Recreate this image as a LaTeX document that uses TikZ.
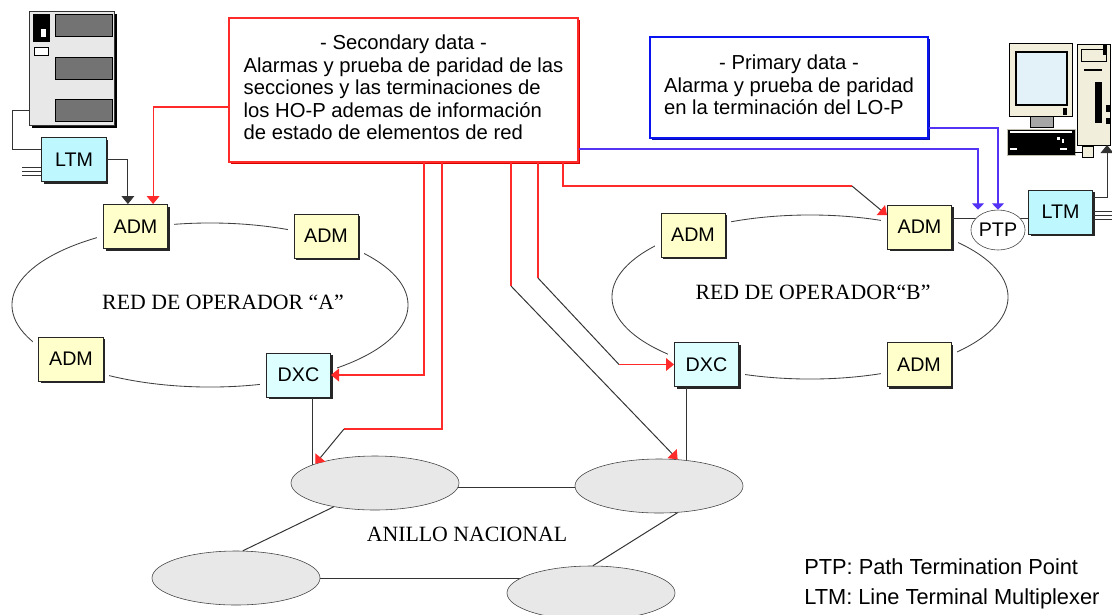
\documentclass[tikz,border=0pt]{standalone}
\usepackage{fontspec}
\setmainfont{Liberation Sans}
\newfontfamily\anillofont{Liberation Serif}
\usepackage{xcolor}
\definecolor{amarilloADM}{HTML}{FFFFCC}
\definecolor{cianDXC}{HTML}{DDFFFF}
\definecolor{cianLTM}{HTML}{BFF7FF}
\definecolor{grisAnillo}{HTML}{E8E8E8}
\definecolor{rojoDato}{HTML}{FF2A2A}
\definecolor{azulDato}{HTML}{5533F5}
\definecolor{azulCaja}{HTML}{0A14F0}
\definecolor{cremaPC}{HTML}{F2EEDC}
\definecolor{pantallaPC}{HTML}{E2F2F8}
\usepackage{tikz}
\usetikzlibrary{arrows.meta,shapes.geometric}

\begin{document}
\begin{tikzpicture}[x=0.025cm,y=-0.025cm,font=\fontsize{14}{16}\selectfont,
  halo/.style={preaction={draw=white,line width=0.3cm}},
  sombra/.style={preaction={fill=#1,transform canvas={shift={(0.6mm,-0.6mm)}}}},
  caja/.style={sombra=black!85,draw=black!85,line width=0.7pt,minimum width=1.6cm,minimum height=1.1cm,inner sep=0pt},
  adm/.style={halo,caja,fill=amarilloADM},
  dxc/.style={halo,caja,fill=cianDXC},
  ltm/.style={caja,fill=cianLTM},
  nodored/.style={ellipse,draw=black!75,fill=grisAnillo,minimum width=4.2cm,minimum height=1.35cm,inner sep=0pt},
  ptpnodo/.style={ellipse,draw=black!75,fill=white,minimum width=1.25cm,minimum height=1cm,inner sep=0pt},
  datosec/.style={sombra=red!85!black,draw=rojoDato,line width=1pt,fill=white,minimum width=8.72cm,minimum height=3.6cm,
    font=\fontsize{14.4}{16}\selectfont},
  datopri/.style={sombra=azulCaja!70!black,draw=azulCaja,line width=1pt,fill=white,minimum width=6.95cm,minimum height=2.52cm,
    font=\fontsize{14.4}{16}\selectfont},
  anillo/.style={draw=black!75,line width=0.6pt},
  enlace/.style={draw=black!80,line width=0.7pt},
  lineared/.style={draw=rojoDato,line width=0.8pt},
  lineaazul/.style={draw=azulDato,line width=0.8pt},
  flecha/.style={-{Triangle[length=2mm,width=3.2mm]}},
  flecharoja/.style={-{Triangle[length=2mm,width=3.2mm,color=rojoDato]}},
  flechaazul/.style={-{Triangle[length=1.6mm,width=3mm]}},
  etiqueta/.style={font=\anillofont\fontsize{15.5}{18}\selectfont},
  leyenda/.style={font=\fontsize{15.5}{18}\selectfont,anchor=base west,inner sep=0pt}]

\useasboundingbox (0,0) rectangle (1112,614);

% Anillos de operador
\draw[anillo] (210,305) ellipse [x radius=4.95cm, y radius=2.05cm];
\draw[anillo] (810,297) ellipse [x radius=4.95cm, y radius=2.05cm];

\node[etiqueta] (redA) at (223,302) {RED DE OPERADOR “A”};
\node[etiqueta] (redB) at (813,292) {RED DE OPERADOR“B”};

% Operador A
\node[adm] (admA1) at (135.5,226.5) {ADM};
\node[adm] (admA2) at (326,236)     {ADM};
\node[adm] (admA3) at (71,359)      {ADM};
\node[dxc] (dxcA)  at (298.5,375)   {DXC};
\node[ltm] (ltmL)  at (74,159.5)    {LTM};

% Operador B
\node[adm] (admBl) at (693,235)     {ADM};
\node[adm] (admBt) at (919.5,227)   {ADM};
\node[dxc] (dxcB)  at (706.5,364.5) {DXC};
\node[adm] (admBr) at (919,364.5)   {ADM};
\node[ltm] (ltmR)  at (1060.5,212)  {LTM};

\draw[enlace] (admBt.east |- 0,218) -- (ltmR.west |- 0,218);
\node[ptpnodo] (ptp) at (998,230) {PTP};

% Anillo nacional
\draw[enlace] (dxcA.south -| 312,0) -- (312,470);
\draw[enlace] (dxcB.south -| 686,0) -- (686,470);
\draw[enlace] (375,487) -- (659,487);
\draw[enlace] (236,578) -- (591,578);

\node[nodored] (e1) at (375,483) {};
\node[nodored] (e2) at (659,486) {};
\node[nodored] (e3) at (236,578) {};
\node[nodored] (e4) at (591,593) {};
\draw[enlace] (e1.-150) -- (e3.76);
\draw[enlace] (e2.-55) -- (e4.86);

\node[etiqueta] (nacional) at (467,534) {ANILLO NACIONAL};

% Servidor de gestion
\fill[black] (32,14) rectangle (117,128);
\filldraw[fill=grisAnillo,draw=black!80] (29,11) rectangle (114,125);
\fill[black] (33,14) rectangle (50,42);
\fill[white] (41,29) rectangle (46,37);
\filldraw[fill=white,draw=black] (34,47) rectangle (48,55);
\foreach \y in {14,57,99}
  \filldraw[fill=black!55,draw=black] (55,\y) rectangle (112,\y+22);

\draw[enlace] (29,110) -| (12,149) -- (ltmL.west |- 0,149);
\foreach \y in {167,171,175}
  \draw[enlace] (22,\y) -- (ltmL.west |- 0,\y);
\draw[enlace,flecha] (ltmL.east) -| ([xshift=-0.19cm]admA1.north);

% Estacion de gestion
\filldraw[fill=cremaPC,draw=black] (1009,43) rectangle (1072,116);
\filldraw[fill=pantallaPC,draw=black,line width=1.2pt] (1016,52) rectangle (1067,105);
\filldraw[fill=black!35,draw=black] (1030,116) rectangle (1053,127);
\fill[black] (1063,108) rectangle (1067,115);
\filldraw[fill=black,draw=cremaPC!80!black] (1007,129) rectangle (1075,155);
\fill[white] (1010,131) rectangle (1072,132.5);
\fill[white] (1010,148) rectangle (1017,150);
\fill[white] (1060,148) rectangle (1067,150);
\fill[white] (1057,137) rectangle (1060,140);
\fill[white] (1062,139) rectangle (1064,143);
\filldraw[fill=cremaPC,draw=black] (1077,44) rectangle (1110,145);
\filldraw[fill=cremaPC,draw=black] (1081,49) rectangle (1106,61);
\fill[black] (1103,45) rectangle (1107,55);
\draw[black,line width=1.4pt] (1084,70) -- (1102,70);
\fill[black] (1095,82) rectangle (1102,123);
\fill[black] (1106,105) rectangle (1110,112);
\fill[black] (1106,118) rectangle (1110,124);
\filldraw[fill=cremaPC,draw=black] (1082,146) rectangle (1093,157);
\draw[black] (1075,152) -- (1082,152);

\coordinate (torre) at (1107,145);
\draw[enlace,flecha] (ltmR.east |- 0,197) -| (torre);
\foreach \y in {211,215,219}
  \draw[enlace] (ltmR.east |- 0,\y) -- (1112,\y);

% Datos secundarios
\node[datosec] (sec) at (403.5,90) {\begin{tabular}{@{}l@{}}
  \multicolumn{1}{@{}c@{}}{- Secondary data -}\\
  Alarmas y prueba de paridad de las\\
  secciones y las terminaciones de\\
  los HO-P ademas de información\\
  de estado de elementos de red
\end{tabular}};

% Datos primarios
\node[datopri] (pri) at (789,87.5) {\begin{tabular}{@{}l@{}}
  \multicolumn{1}{@{}c@{}}{- Primary data -}\\
  Alarma y prueba de paridad\\
  en la terminación del LO-P
\end{tabular}};

% Conexiones de datos secundarios
\draw[lineared,flecharoja] (sec.west |- 0,107) -| ([xshift=0.44cm]admA1.north);
\draw[lineared,flecharoja] (424,0 |- sec.south) |- (dxcA.east);
\draw[lineared] (442,0 |- sec.south) |- (344,429) coordinate (codoA);
\draw[enlace,flecharoja] (codoA) -- (e1.north west);
\draw[lineared] (511,0 |- sec.south) -- (511,286) coordinate (codoB);
\draw[enlace,flecharoja] (codoB) -- (e2.55);
\draw[lineared] (538,0 |- sec.south) -- (538,278) coordinate (codoC);
\draw[enlace] (codoC) -- (619,0 |- dxcB.west) coordinate (codoD);
\draw[lineared,flecharoja] (codoD) -- (dxcB.west);
\draw[lineared] (563,0 |- sec.south) |- (852,186) coordinate (codoE);
\draw[enlace,flecharoja] (codoE) -- (admBt.160);

% Conexiones de datos primarios
\draw[lineaazul,flechaazul] (sec.east |- 0,149) -| ([xshift=-0.5cm]ptp.north);
\draw[lineaazul,flechaazul] (pri.east |- 0,128) -| (ptp.north);

% Leyenda
\node[leyenda] (leyPTP) at (804,574) {PTP: Path Termination Point};
\node[leyenda] (leyLTM) at (804,604) {LTM: Line Terminal Multiplexer};

\end{tikzpicture}
\end{document}
